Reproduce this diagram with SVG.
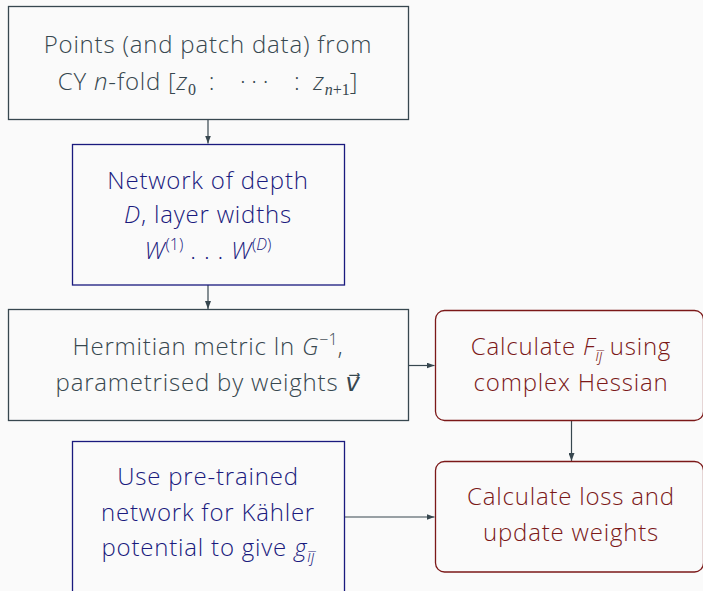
<svg xmlns="http://www.w3.org/2000/svg" width="703" height="591" viewBox="0 0 703 591">
<style>
text{font-family:"Open Sans","Lato","DejaVu Sans",sans-serif;font-weight:300;font-size:24px;letter-spacing:0.8px;text-anchor:middle}
.g{fill:#37474f}
.b{fill:#1a1a7e}
.r{fill:#7b1818}
.gb{fill:#fafafa;stroke:#37474f;stroke-width:1.3}
.bb{fill:#fafafa;stroke:#1a1a7e;stroke-width:1.3}
.rb{fill:#fafafa;stroke:#7b1818;stroke-width:1.3}
.i{font-style:italic}
.s{font-size:16px;letter-spacing:0}
.m{font-family:"Liberation Serif",serif;font-weight:400}
.c{fill:none;stroke:#37474f;stroke-width:1.2}
</style>
<defs>
<marker id="ah" viewBox="0 0 8 6" refX="8" refY="3" markerWidth="8" markerHeight="6" markerUnits="userSpaceOnUse" orient="auto">
<path d="M0,0 L8,3 L0,6 Z" fill="#37474f"/>
</marker>
</defs>
<rect width="703" height="591" fill="#fafafa"/>
<g id="connectors">
<line class="c" x1="208" y1="120" x2="208" y2="143.5" marker-end="url(#ah)"/>
<line class="c" x1="208" y1="285" x2="208" y2="309" marker-end="url(#ah)"/>
<line class="c" x1="408" y1="365.5" x2="434.5" y2="365.5" marker-end="url(#ah)"/>
<line class="c" x1="571.5" y1="421" x2="571.5" y2="461" marker-end="url(#ah)"/>
<line class="c" x1="344.5" y1="517" x2="434.5" y2="517" marker-end="url(#ah)"/>
</g>
<g id="n1">
<rect class="gb" x="8.5" y="6.5" width="400" height="113"/>
<text class="g" x="208" y="53">Points (and patch data) from</text>
<text class="g" x="208" y="90">CY <tspan class="i">n</tspan>-fold [<tspan class="i">z</tspan><tspan class="s m" dy="5">0</tspan><tspan dy="-5">&#8194;:&#8195;·&#8201;·&#8201;·&#8195;:&#8194;</tspan><tspan class="i">z</tspan><tspan class="s m" dy="5"><tspan class="i">n</tspan>+1</tspan><tspan dy="-5">]</tspan></text>
</g>
<g id="n2">
<rect class="bb" x="72.5" y="144.5" width="272" height="140.5"/>
<text class="b" x="208" y="189">Network of depth</text>
<text class="b" x="208" y="223"><tspan class="i">D</tspan>, layer widths</text>
<text class="b" x="208" y="259"><tspan class="i">W</tspan><tspan class="s" dy="-9">(1)</tspan><tspan dy="9"> . . . </tspan><tspan class="i">W</tspan><tspan class="s" dy="-9">(<tspan class="i">D</tspan>)</tspan></text>
</g>
<g id="n3">
<rect class="gb" x="8.5" y="309.5" width="400" height="111"/>
<text class="g" x="208" y="355">Hermitian metric ln <tspan class="i">G</tspan><tspan class="s" dy="-10">−1</tspan><tspan dy="10">,</tspan></text>
<text class="g" x="208" y="391">parametrised by weights <tspan class="i">v⃗</tspan></text>
</g>
<g id="n4">
<rect class="rb" x="435.5" y="310.5" width="268" height="110" rx="9"/>
<text class="r" x="571" y="355">Calculate <tspan class="i">F</tspan><tspan class="s i" dy="6">īj̄</tspan><tspan dy="-6"> using</tspan></text>
<text class="r" x="571" y="391">complex Hessian</text>
</g>
<g id="n5">
<rect class="rb" x="435.5" y="461.5" width="268" height="110.5" rx="9"/>
<text class="r" x="571" y="505">Calculate loss and</text>
<text class="r" x="571" y="541">update weights</text>
</g>
<g id="n6">
<rect class="bb" x="72.5" y="441.5" width="272" height="160"/>
<text class="b" x="208" y="485">Use pre-trained</text>
<text class="b" x="208" y="521">network for Kähler</text>
<text class="b" x="208" y="556">potential to give <tspan class="i">g</tspan><tspan class="s i" dy="6">īj̄</tspan></text>
</g>
</svg>
